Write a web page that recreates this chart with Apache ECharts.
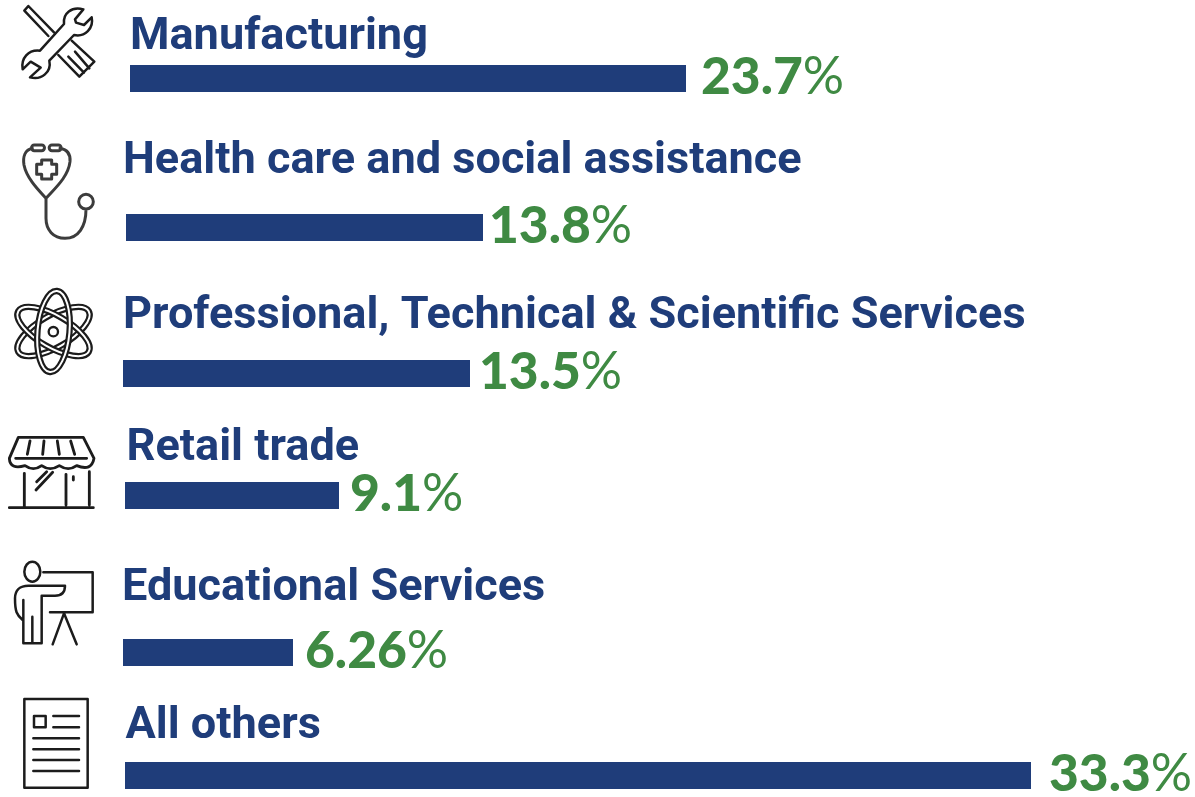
<!DOCTYPE html>
<html><head><meta charset="utf-8">
<style>html,body{margin:0;padding:0;background:#fff}#c{width:1195px;height:797px}</style>
<script src="https://cdn.jsdelivr.net/npm/echarts@6/dist/echarts.min.js"></script>
</head><body><div id="c"></div>
<script>
const categories = ['Manufacturing','Health care and social assistance','Professional, Technical & Scientific Services','Retail trade','Educational Services','All others'];
const values = [23.7,13.8,13.5,9.1,6.26,33.3];
const valueLabels = ['23.7','13.8','13.5','9.1','6.26','33.3'];

// Layout of the hand-placed rows in the reference (each row has its own origin and scale)
const rowLeft = [130,126,123,125,123,125];
const rowTop = [65,214,360,482,639,762];
const rowBarPx = [556,357,347,214,170,906];
const labelGap = [15,6,9,11,12,18];
const titleLeft = [130,123,123,126.5,122,125.5];
const titleTop = [15,139,294,426,566,704];

const NAVY = '#1f3d7a', GREEN = '#3f8a43', AXIS_MAX = 35;
const grid = [], xAxis = [], yAxis = [], series = [], title = [];
categories.forEach((name, i) => {
  grid.push({left: rowLeft[i], top: rowTop[i], height: 27, width: rowBarPx[i] * AXIS_MAX / values[i]});
  xAxis.push({gridIndex: i, type: 'value', min: 0, max: AXIS_MAX, show: false});
  yAxis.push({gridIndex: i, type: 'category', data: [name], show: false});
  series.push({
    type: 'bar', xAxisIndex: i, yAxisIndex: i, data: [values[i]], barWidth: 27, silent: true,
    itemStyle: {color: NAVY},
    label: {show: true, position: 'right', distance: labelGap[i], offset: [0, -1],
      formatter: '{n|' + valueLabels[i] + '}{p|%}',
      rich: {n: {fontFamily: 'Lato', fontWeight: 900, fontSize: 51.5, color: GREEN},
             p: {fontFamily: 'Lato', fontWeight: 400, fontSize: 51.5, color: GREEN}}}
  });
  title.push({text: name, left: titleLeft[i], top: titleTop[i], padding: 0,
    textStyle: {fontFamily: 'Roboto', fontWeight: 700, fontSize: 45.1, color: NAVY}});
});

function icon(x, y, d, color, w) {
  return {type: 'path', x, y, scaleX: 1/3, scaleY: 1/3, silent: true,
    shape: {pathData: d},
    style: {fill: 'none', stroke: color, lineWidth: w, lineJoin: 'round', lineCap: 'round'}};
}
function orbit(rot, color, w) {
  return {type: 'ellipse', x: 53.5, y: 331.5, rotation: rot * Math.PI / 180, silent: true, scaleX: 1/3, scaleY: 1/3,
    shape: {cx: 0, cy: 0, rx: 122, ry: 48},
    style: {fill: 'none', stroke: color, lineWidth: w}};
}
const K = '#1c1c1c', G = '#3c3c3c';
const iconElements = [
  icon(0,0,'M73,32L85,18L162,97M73,32L145,108M175,165L238,230L283,185L215,122M205,170L252,218M225,155L268,205',K,7.5),
  icon(0,0,'M250,28C215,18 188,40 192,72L120,152C85,148 62,175 68,208L92,185L122,203L90,232C125,242 155,215 148,182L222,105C255,112 282,85 275,52L252,75L228,68L225,58Z',K,7.5),
  icon(0,130,'M97,55C75,60 68,80 72,105C80,145 115,180 138,205C165,175 205,140 210,95C212,70 200,58 180,55M138,205L138,265C138,300 160,325 195,325C235,325 258,290 258,238M280,215A22,22 0 1 1 236,215A22,22 0 1 1 280,215M103,45H125A8,8 0 0 1 125,62H103A8,8 0 0 1 103,45M156,45H175A8,8 0 0 1 175,62H156A8,8 0 0 1 156,45M125,90H155V103H170V133H155V147H125V133H110V103H125Z',G,9),
  orbit(30,K,19), orbit(30,'#fff',6), orbit(-30,K,19), orbit(-30,'#fff',6), orbit(85,K,19), orbit(85,'#fff',6),
  icon(0,280,'M174,155A14,14 0 1 1 146,155A14,14 0 1 1 174,155',K,7),
  icon(0,425,'M28,100L55,37H250L282,100M28,100Q30,135 75,122Q100,140 125,122Q150,140 178,122Q205,140 230,122Q275,140 282,100M47,100H260M90,48L82,88M132,48L128,88M172,48L178,88M212,48L224,88M73,145V245M198,148V240M268,140V240M28,248H280M110,170L140,140M108,195L158,142M220,155V165',K,8.5),
  icon(0,555,'M121,50A24,30 0 1 1 73,50A24,30 0 1 1 121,50M130,52H278V172H150M192,175L158,268M192,175L230,268M68,195C50,180 45,170 45,130C45,105 60,92 85,92H195C195,115 180,122 165,122H125V265H70V135M97,185V265',K,7.5),
  icon(0,690,'M73,27H263V293H73ZM102,78H137V112H102ZM160,78H237M160,112H237M100,145H237M100,178H237M100,210H237M100,243H237',K,7.5)
];
series.push({type: 'custom', coordinateSystem: 'none', silent: true, data: [0],
  renderItem: () => ({type: 'group', children: iconElements})});

const chart = echarts.init(document.getElementById('c'), null, {renderer: 'canvas'});
chart.setOption({animation: false, backgroundColor: '#fff', title, grid, xAxis, yAxis, series, tooltip: {show: false}});
</script></body></html>
